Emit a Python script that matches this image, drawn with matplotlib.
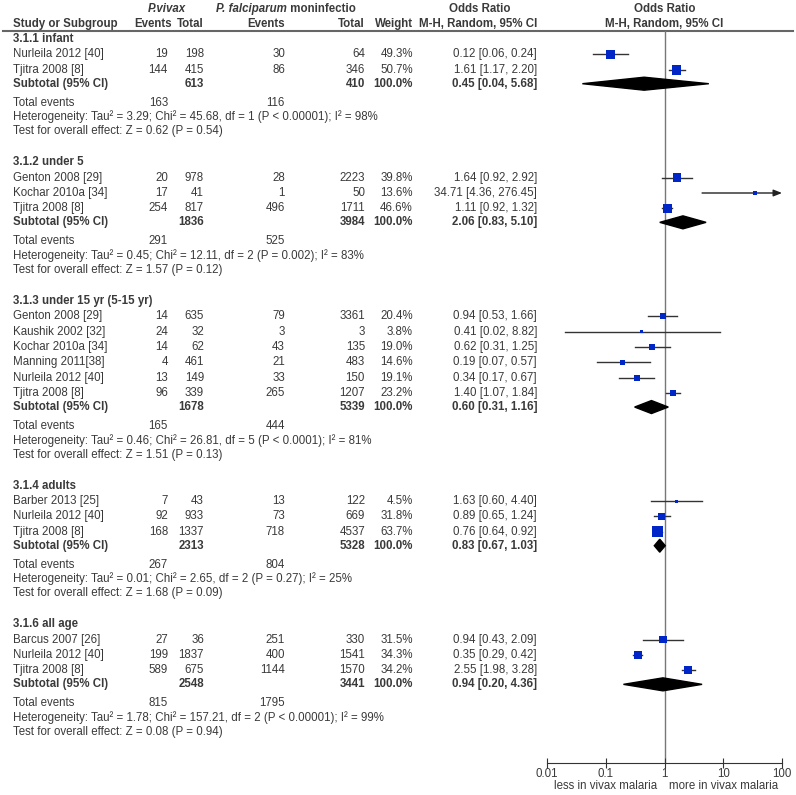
import numpy as np
import matplotlib.pyplot as plt
from matplotlib.patches import Polygon

plt.rcParams['font.family'] = ['Liberation Sans', 'DejaVu Sans']

# subgroup data
groups = ['3.1.1 infant', '3.1.2 under 5', '3.1.3 under 15 yr (5-15 yr)',
          '3.1.4 adults', '3.1.6 all age']
study_names = [
    ['Nurleila 2012 [40]', 'Tjitra 2008 [8]'],
    ['Genton 2008 [29]', 'Kochar 2010a [34]', 'Tjitra 2008 [8]'],
    ['Genton 2008 [29]', 'Kaushik 2002 [32]', 'Kochar 2010a [34]',
     'Manning 2011[38]', 'Nurleila 2012 [40]', 'Tjitra 2008 [8]'],
    ['Barber 2013 [25]', 'Nurleila 2012 [40]', 'Tjitra 2008 [8]'],
    ['Barcus 2007 [26]', 'Nurleila 2012 [40]', 'Tjitra 2008 [8]'],
]
ev_vivax = [[19, 144], [20, 17, 254], [14, 24, 14, 4, 13, 96], [7, 92, 168], [27, 199, 589]]
tot_vivax = [[198, 415], [978, 41, 817], [635, 32, 62, 461, 149, 339], [43, 933, 1337], [36, 1837, 675]]
ev_falc = [[30, 86], [28, 1, 496], [79, 3, 43, 21, 33, 265], [13, 73, 718], [251, 400, 1144]]
tot_falc = [[64, 346], [2223, 50, 1711], [3361, 3, 135, 483, 150, 1207], [122, 669, 4537], [330, 1541, 1570]]
weights = [[49.3, 50.7], [39.8, 13.6, 46.6], [20.4, 3.8, 19.0, 14.6, 19.1, 23.2],
           [4.5, 31.8, 63.7], [31.5, 34.3, 34.2]]
or_est = [[0.12, 1.61], [1.64, 34.71, 1.11], [0.94, 0.41, 0.62, 0.19, 0.34, 1.40],
          [1.63, 0.89, 0.76], [0.94, 0.35, 2.55]]
or_lo = [[0.06, 1.17], [0.92, 4.36, 0.92], [0.53, 0.02, 0.31, 0.07, 0.17, 1.07],
         [0.60, 0.65, 0.64], [0.43, 0.29, 1.98]]
or_hi = [[0.24, 2.20], [2.92, 276.45, 1.32], [1.66, 8.82, 1.25, 0.57, 0.67, 1.84],
         [4.40, 1.24, 0.92], [2.09, 0.42, 3.28]]

sub_tot_vivax = [613, 1836, 1678, 2313, 2548]
sub_tot_falc = [410, 3984, 5339, 5328, 3441]
sub_or = [0.45, 2.06, 0.60, 0.83, 0.94]
sub_lo = [0.04, 0.83, 0.31, 0.67, 0.20]
sub_hi = [5.68, 5.10, 1.16, 1.03, 4.36]
sub_ev_vivax = [163, 291, 165, 267, 815]
sub_ev_falc = [116, 525, 444, 804, 1795]
het_text = [
    'Heterogeneity: Tau\u00b2 = 3.29; Chi\u00b2 = 45.68, df = 1 (P < 0.00001); I\u00b2 = 98%',
    'Heterogeneity: Tau\u00b2 = 0.45; Chi\u00b2 = 12.11, df = 2 (P = 0.002); I\u00b2 = 83%',
    'Heterogeneity: Tau\u00b2 = 0.46; Chi\u00b2 = 26.81, df = 5 (P < 0.0001); I\u00b2 = 81%',
    'Heterogeneity: Tau\u00b2 = 0.01; Chi\u00b2 = 2.65, df = 2 (P = 0.27); I\u00b2 = 25%',
    'Heterogeneity: Tau\u00b2 = 1.78; Chi\u00b2 = 157.21, df = 2 (P < 0.00001); I\u00b2 = 99%',
]
test_text = [
    'Test for overall effect: Z = 0.62 (P = 0.54)',
    'Test for overall effect: Z = 1.57 (P = 0.12)',
    'Test for overall effect: Z = 1.51 (P = 0.13)',
    'Test for overall effect: Z = 1.68 (P = 0.09)',
    'Test for overall effect: Z = 0.08 (P = 0.94)',
]
ticks = [0.01, 0.1, 1, 10, 100]
tick_labels = ['0.01', '0.1', '1', '10', '100']

W, H = 796, 795
TXT = '#3a3a3a'
BLUE = '#0026c8'
FS = 8.3

fig = plt.figure(figsize=(W / 100, H / 100), dpi=100)
tax = fig.add_axes([0, 0, 1, 1])
tax.set_xlim(0, W)
tax.set_ylim(H, 0)
tax.axis('off')

# forest panel: x in odds ratio (log), y in figure pixels like the text panel
ax_top, ax_bot = 31, 763
fax = fig.add_axes([547 / W, (H - ax_bot) / H, 235 / W, (ax_bot - ax_top) / H])
fax.set_xscale('log')
fax.set_xlim(0.01, 100)
fax.set_ylim(ax_bot, ax_top)
fax.patch.set_alpha(0)
for s in ['top', 'left', 'right']:
    fax.spines[s].set_visible(False)
fax.spines['bottom'].set_color('#333333')
fax.set_yticks([])
fax.set_xticks(ticks)
fax.set_xticklabels(tick_labels)
fax.minorticks_off()
fax.tick_params(axis='x', direction='inout', length=7, color='#333333',
                labelsize=FS, labelcolor=TXT, pad=0)
fax.axvline(1, color='#777777', lw=1, zorder=1)

# column x positions (right edges)
c_name, c_ev1, c_tot1, c_ev2, c_tot2, c_w, c_or = 13, 168, 204, 285, 365, 413, 537


def txt(x, y, s, ha='right', bold=False, **kw):
    tax.text(x, y, s, ha=ha, va='center', fontsize=FS, color=TXT,
             fontweight='bold' if bold else 'normal', **kw)


def ftxt(x, ypix, s, bold=False, va='center'):
    # x in odds-ratio units, y in pixels from the top
    fax.annotate(s, xy=(x, H - ypix), xycoords=('data', 'figure pixels'), ha='center',
                 va=va, fontsize=FS, color=TXT, fontweight='bold' if bold else 'normal')


# header
tax.text(167, 9, 'P.vivax', ha='center', va='center', fontsize=FS, color=TXT,
         fontweight='bold', style='italic')
t1 = tax.text(216, 9, 'P. falciparum', ha='left', va='center', fontsize=FS, color=TXT,
              fontweight='bold', style='italic')
tax.annotate(' moninfectio', xy=(1, 0.5), xycoords=t1, ha='left', va='center',
             fontsize=FS, color=TXT, fontweight='bold')
txt(480, 9, 'Odds Ratio', ha='center', bold=True)
txt(c_name, 24, 'Study or Subgroup', ha='left', bold=True)
txt(172, 24, 'Events', bold=True)
txt(c_tot1, 24, 'Total', bold=True)
txt(c_ev2, 24, 'Events', bold=True)
txt(c_tot2, 24, 'Total', bold=True)
txt(c_w, 24, 'Weight', bold=True)
txt(c_or, 24, 'M-H, Random, 95% CI', bold=True)
ftxt(1, 9, 'Odds Ratio', bold=True)
ftxt(1, 24, 'M-H, Random, 95% CI', bold=True)
tax.axhline(31, xmin=3 / W, xmax=793 / W, color='#666666', lw=1.5)

# rows
y = 39
for g in range(len(groups)):
    txt(c_name, y, groups[g], ha='left', bold=True)
    for i, name in enumerate(study_names[g]):
        y += 15.35
        txt(c_name, y, name, ha='left')
        txt(c_ev1, y, str(ev_vivax[g][i]))
        txt(c_tot1, y, str(tot_vivax[g][i]))
        txt(c_ev2, y, str(ev_falc[g][i]))
        txt(c_tot2, y, str(tot_falc[g][i]))
        txt(c_w, y, '%.1f%%' % weights[g][i])
        txt(c_or, y, '%.2f [%.2f, %.2f]' % (or_est[g][i], or_lo[g][i], or_hi[g][i]))
        lo, hi = or_lo[g][i], or_hi[g][i]
        if hi > 100:
            fax.annotate('', xy=(100, y), xytext=(lo, y),
                         arrowprops=dict(arrowstyle='-|>,head_length=0.5,head_width=0.2',
                                         color='#222222', lw=1, shrinkA=0, shrinkB=0))
        else:
            fax.plot([lo, hi], [y, y], color='#333333', lw=1, zorder=2)
        side = max(3.0, 1.35 * np.sqrt(weights[g][i]))
        fax.scatter([or_est[g][i]], [y], marker='s', s=(0.72 * side) ** 2,
                    color=BLUE, edgecolors='none', zorder=3)
    y += 14
    txt(c_name, y, 'Subtotal (95% CI)', ha='left', bold=True)
    txt(c_tot1, y, str(sub_tot_vivax[g]), bold=True)
    txt(c_tot2, y, str(sub_tot_falc[g]), bold=True)
    txt(c_w, y, '100.0%', bold=True)
    txt(c_or, y, '%.2f [%.2f, %.2f]' % (sub_or[g], sub_lo[g], sub_hi[g]), bold=True)
    dh = 6.5
    fax.add_patch(Polygon([(sub_lo[g], y), (sub_or[g], y - dh), (sub_hi[g], y),
                           (sub_or[g], y + dh)], closed=True, color='black', zorder=3))
    y += 19
    txt(c_name, y, 'Total events', ha='left')
    txt(c_ev1, y, str(sub_ev_vivax[g]))
    txt(c_ev2, y, str(sub_ev_falc[g]))
    y += 14.3
    txt(c_name, y, het_text[g], ha='left')
    y += 14.3
    txt(c_name, y, test_text[g], ha='left')
    y += 31

ftxt(0.1, 789, 'less in vivax malaria', va='baseline')
ftxt(10, 789, 'more in vivax malaria', va='baseline')

fig.savefig('out.png', dpi=100)
